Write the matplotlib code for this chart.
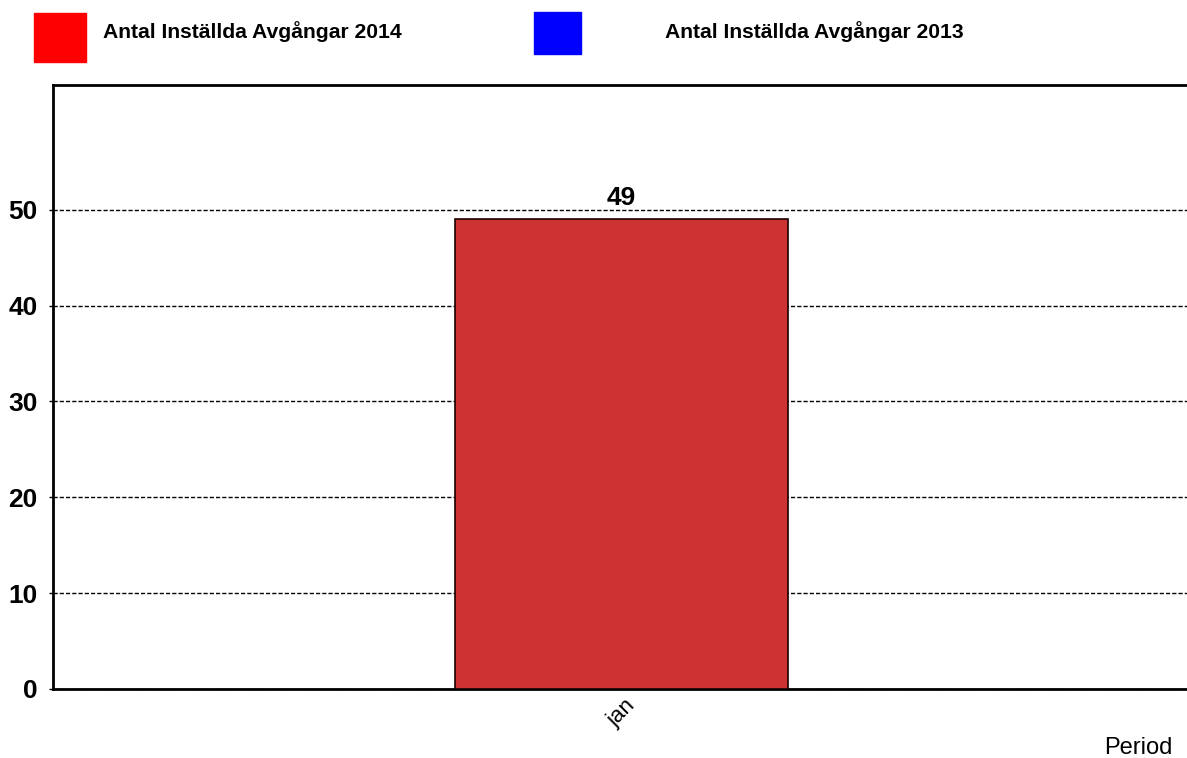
import matplotlib
matplotlib.use("Agg")
import matplotlib.pyplot as plt
from matplotlib.patches import Rectangle

# data
months = ["jan"]
values_2014 = [49]
series_names = ["Antal Inställda Avgångar 2014", "Antal Inställda Avgångar 2013"]
series_colors = ["#ff0000", "#0000ff"]
y_ticks = [0, 10, 20, 30, 40, 50]

plt.rcParams["font.family"] = ["Liberation Sans", "DejaVu Sans"]

W, H = 1187, 758
fig = plt.figure(figsize=(W / 100, H / 100), dpi=100)
ax = fig.add_axes([53 / W, 1 - 689 / H, (W - 53) / W, (689 - 85) / H])

x = list(range(len(months)))
bars = ax.bar(x, values_2014, width=0.2937, color="#cd3333", edgecolor="#1a0000",
              linewidth=1.2, zorder=3)
for b, v in zip(bars, values_2014):
    ax.text(b.get_x() + b.get_width() / 2, v + 0.95, str(v), ha="center", va="bottom",
            fontsize=19, fontweight="bold", zorder=4)

ax.set_xlim(-0.5013, 0.4987)
ax.set_ylim(0, 63)
ax.set_yticks(y_ticks)
ax.set_yticklabels([str(t) for t in y_ticks], fontsize=19, fontweight="bold")
ax.set_xticks(x)
ax.set_xticklabels(months, rotation=45, fontsize=16, ha="center")
ax.tick_params(axis="x", length=0, pad=4)
ax.tick_params(axis="y", length=3, width=1, pad=8)
ax.yaxis.grid(True, linestyle=(0, (3, 1.5)), color="black", linewidth=1, zorder=0)
ax.set_axisbelow(True)

for s in ["left", "top", "bottom"]:
    ax.spines[s].set_linewidth(2)
ax.spines["right"].set_visible(False)

fig.text(1173 / W, 1 - 754 / H, "Period", ha="right", va="baseline", fontsize=17)

# legend boxes at top
fig.patches.append(Rectangle((34 / W, 1 - 62 / H), 52 / W, 49 / H, color=series_colors[0],
                             transform=fig.transFigure, figure=fig))
fig.patches.append(Rectangle((534 / W, 1 - 54 / H), 47 / W, 42 / H, color=series_colors[1],
                             transform=fig.transFigure, figure=fig))
fig.text(103 / W, 1 - 38 / H, series_names[0], ha="left", va="baseline", fontsize=15.2, fontweight="bold")
fig.text(665 / W, 1 - 38 / H, series_names[1], ha="left", va="baseline", fontsize=15.2, fontweight="bold")

fig.savefig("out.png", dpi=100)
